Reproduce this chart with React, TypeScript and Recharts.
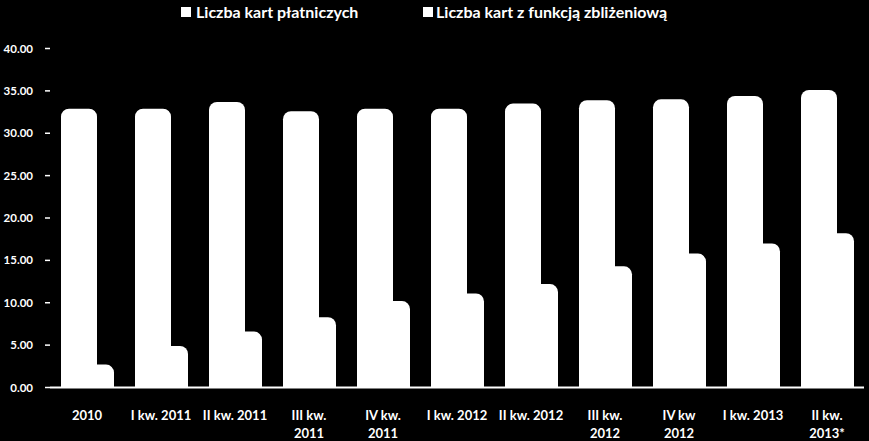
import React from "react";
import { BarChart, Bar, XAxis, YAxis } from "recharts";

const categories = [
  "2010",
  "I kw. 2011",
  "II kw. 2011",
  "III kw.\n2011",
  "IV kw.\n2011",
  "I kw. 2012",
  "II kw. 2012",
  "III kw.\n2012",
  "IV kw\n2012",
  "I kw. 2013",
  "II kw.\n2013*",
];
const paymentCards = [32.9, 32.9, 33.7, 32.6, 32.9, 32.9, 33.5, 33.9, 34.0, 34.4, 35.1];
const contactlessCards = [2.7, 4.9, 6.6, 8.3, 10.2, 11.1, 12.2, 14.3, 15.8, 17.0, 18.2];
const yTicks = [0, 5, 10, 15, 20, 25, 30, 35, 40];
const seriesNames = ["Liczba kart płatniczych", "Liczba kart z funkcją zbliżeniową"];

const data = categories.map((c, i) => ({
  name: c,
  a: paymentCards[i],
  b: contactlessCards[i],
}));

const FONT = "Lato, 'Liberation Sans', sans-serif";

const XTick = (props: any) => {
  const { x, y, payload } = props;
  const lines = String(payload.value).split("\n");
  return (
    <g transform={`translate(${x},${y})`}>
      <text textAnchor="middle" fill="#fff" fontFamily={FONT} fontWeight={700} fontSize={13}>
        {lines.map((l, i) => (
          <tspan key={i} x={0} y={32 + i * 18}>
            {l}
          </tspan>
        ))}
      </text>
    </g>
  );
};

export default function App() {
  return (
    <div
      style={{
        position: "fixed",
        left: 0,
        top: 0,
        width: 869,
        height: 441,
        background: "#000",
        overflow: "hidden",
      }}
    >
      <div style={{ position: "absolute", left: 0, top: 0, width: 869, height: 26, fontFamily: FONT, fontWeight: 700, fontSize: 16, color: "#fff" }}>
        <div style={{ position: "absolute", left: 181, top: 7, width: 10, height: 10, background: "#fff" }} />
        <div style={{ position: "absolute", left: 196, top: 2, whiteSpace: "nowrap" }}>{seriesNames[0]}</div>
        <div style={{ position: "absolute", left: 423, top: 7, width: 10, height: 10, background: "#fff" }} />
        <div style={{ position: "absolute", left: 436, top: 2, whiteSpace: "nowrap" }}>{seriesNames[1]}</div>
      </div>
      <BarChart
        width={869}
        height={441}
        data={data}
        margin={{ top: 48.5, right: 5, bottom: 0, left: 0 }}
        barSize={36}
        barGap={-19}
        barCategoryGap={0}
      >
        <XAxis
          dataKey="name"
          axisLine={{ stroke: "#fff", strokeWidth: 2 }}
          tickLine={false}
          tickSize={0}
          tickMargin={0}
          height={53.5}
          interval={0}
          tick={<XTick />}
        />
        <YAxis
          domain={[0, 40]}
          ticks={yTicks}
          width={50}
          axisLine={false}
          tickLine={{ stroke: "#fff", strokeWidth: 1.5 }}
          tickSize={5}
          tickMargin={12}
          tickFormatter={(v: number) => v.toFixed(2)}
          tick={{ fill: "#fff", fontFamily: FONT, fontWeight: 700, fontSize: 11.5 }}
        />
        <Bar dataKey="a" name={seriesNames[0]} fill="#fff" radius={[8, 8, 0, 0]} isAnimationActive={false} />
        <Bar dataKey="b" name={seriesNames[1]} fill="#fff" radius={[8, 8, 0, 0]} isAnimationActive={false} />
      </BarChart>
    </div>
  );
}
